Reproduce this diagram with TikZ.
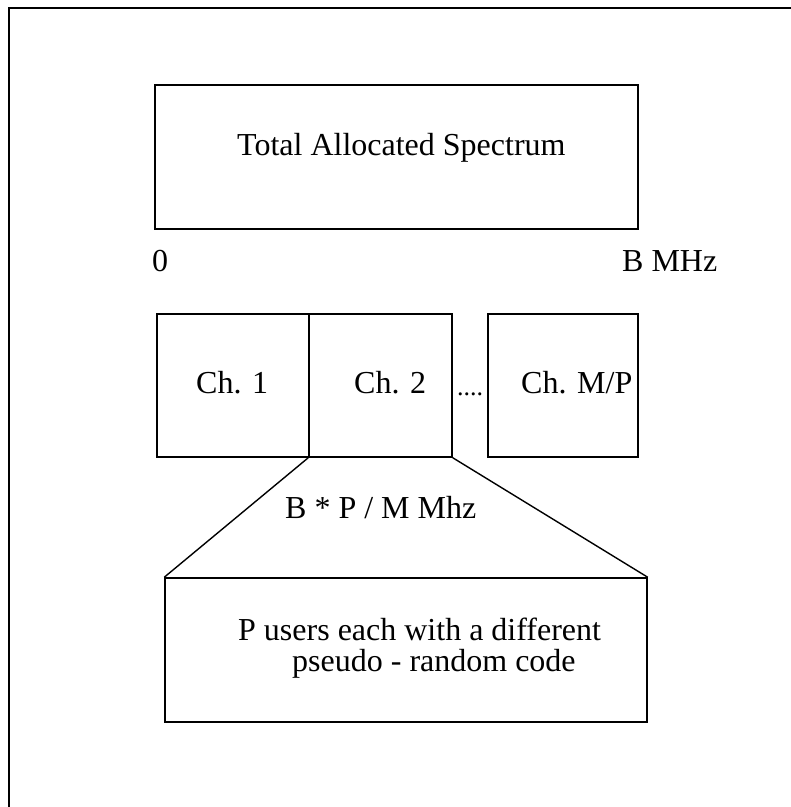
\documentclass[tikz,border=0pt]{standalone}
\usepackage{fontspec}
\setmainfont{Liberation Serif}
\begin{document}
\begin{tikzpicture}[x=1pt,y=-1pt,
  box/.style={draw,line width=1.5pt,inner sep=0pt,minimum width=#1},
  lbl/.style={anchor=base west,inner sep=0pt,font=\fontsize{32}{27}\selectfont},
  conn/.style={line width=1.4pt}]
\useasboundingbox (0,0) rectangle (791,807);
% outer frame (only left and top sides visible)
\coordinate (fbl) at (9,807);
\coordinate (ftl) at (9,8);
\coordinate (ftr) at (791,8);
\draw[line width=1.6pt] (fbl) -- (ftl) -- (ftr);
% top box
\node[box=483pt,minimum height=144pt] (total) at (396.5,157) {};
\node[lbl] (totaltxt) at (237,155) {Total Allocated Spectrum};
\node[lbl] (zero) at (152,271) {0};
\node[lbl] (bmhz) at (622,271) {B MHz};
% channel boxes
\node[box=152pt,minimum height=143pt] (ch1) at (233,385.5) {};
\node[box=143pt,minimum height=143pt] (ch2) at (380.5,385.5) {};
\node[box=150pt,minimum height=143pt] (chmp) at (563,385.5) {};
\node[lbl] (ch1txt) at (196,393) {Ch. 1};
\node[lbl] (ch2txt) at (354,393) {Ch. 2};
\node[lbl] (chmptxt) at (521,393) {Ch. M/P};
\node[lbl,font=\fontsize{26}{26}\selectfont] (dots) at (457,395) {....};
% bandwidth label
\node[lbl] (bw) at (285,518) {B * P / M Mhz};
% users box
\node[box=482pt,minimum height=144pt] (users) at (406,650) {};
\node[lbl] (u1) at (238,640) {P users each with a different};
\node[lbl] (u2) at (292,671) {pseudo - random code};
% expansion lines
\draw[conn] (ch2.south west) -- (users.north west);
\draw[conn] (ch2.south east) -- (users.north east);
\end{tikzpicture}
\end{document}
